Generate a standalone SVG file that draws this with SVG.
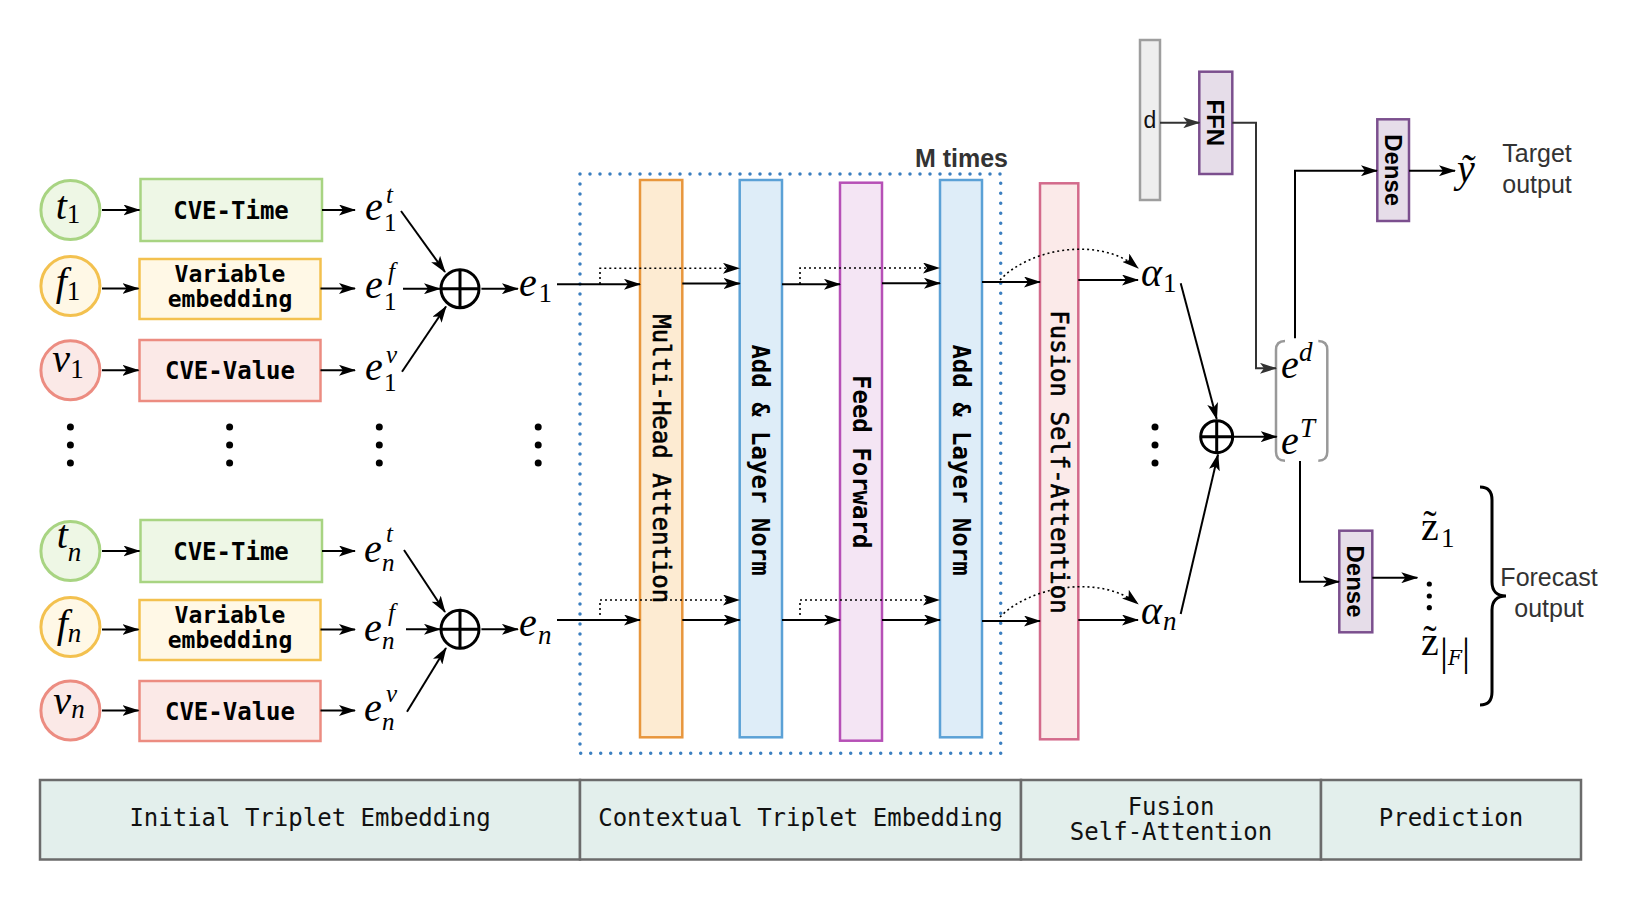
<svg xmlns="http://www.w3.org/2000/svg" width="1637" height="900" viewBox="0 0 1637 900">
<style>
.ln{stroke:#000;stroke-width:2;fill:none}
.arr{marker-end:url(#ah)}
.garr{marker-end:url(#ahg)}
.dt{stroke:#000;stroke-width:1.6;stroke-dasharray:2 3;fill:none}
.mono{font-family:"DejaVu Sans Mono","Liberation Mono",monospace;font-size:24px;font-weight:bold;fill:#000}
.mono2{font-size:23px}
.monor{font-family:"DejaVu Sans Mono","Liberation Mono",monospace;font-size:24px;fill:#000;stroke:#000;stroke-width:0.6}
.tab{font-family:"DejaVu Sans Mono","Liberation Mono",monospace;font-size:24px;fill:#111}
.math{font-family:"Liberation Serif","DejaVu Serif",serif;font-style:italic;font-size:40px;fill:#000}
.rm{font-family:"Liberation Serif","DejaVu Serif",serif;font-size:40px;fill:#000}
.s{font-size:27px}
.ss{font-size:25px}
.up{font-style:normal}
.sans{font-family:"Liberation Sans",Arial,sans-serif;font-size:25px;fill:#333}
.sansb{font-family:"Liberation Sans",Arial,sans-serif;font-size:24px;font-weight:bold;fill:#000}
.ct{fill:#eef7e5;stroke:#a8d482;stroke-width:3}
.cf{fill:#fff8e6;stroke:#f3c14f;stroke-width:3}
.cv{fill:#fbe9e7;stroke:#ec8c81;stroke-width:3}
.bt{fill:#eef7e6;stroke:#a8d482;stroke-width:2.5}
.bf{fill:#fff8e6;stroke:#f3c14f;stroke-width:2.5}
.bv{fill:#fbe9e7;stroke:#ec8c81;stroke-width:2.5}
.bmh{fill:#fdebd2;stroke:#e8963c;stroke-width:2.5}
.ban{fill:#deedf8;stroke:#5ba1d6;stroke-width:2.5}
.bff{fill:#f4e5f4;stroke:#b650b6;stroke-width:2.5}
.bfu{fill:#fbeae9;stroke:#d36a8b;stroke-width:2.5}
.bpu{fill:#e6dde9;stroke:#7b4f8e;stroke-width:2.5}
.bd{fill:#eeeeee;stroke:#9e9e9e;stroke-width:2.5}
.op{fill:none;stroke:#000;stroke-width:3}
.cell{fill:#e3efec;stroke:#6b6b6b;stroke-width:2.5}
</style>
<defs>
<marker id="ah" viewBox="0 0 17 11" refX="16" refY="5.5" markerWidth="17" markerHeight="11" markerUnits="userSpaceOnUse" orient="auto"><path d="M0,0 L17,5.5 L0,11 L4,5.5 Z" fill="#000"/></marker>
<marker id="ahg" viewBox="0 0 17 11" refX="16" refY="5.5" markerWidth="17" markerHeight="11" markerUnits="userSpaceOnUse" orient="auto"><path d="M0,0 L17,5.5 L0,11 L4,5.5 Z" fill="#333"/></marker>
</defs>

<!-- input circles -->
<g id="t1"><circle class="ct" cx="70.4" cy="210" r="29.5"/><text class="math" x="68" y="219" text-anchor="middle">t<tspan class="s up" dy="4">1</tspan></text></g>
<g id="f1"><circle class="cf" cx="70.4" cy="286" r="29.5"/><text class="math" x="68" y="295" text-anchor="middle">f<tspan class="s up" dy="5">1</tspan></text></g>
<g id="v1"><circle class="cv" cx="70.4" cy="370.3" r="29.5"/><text class="math" x="68" y="372" text-anchor="middle">v<tspan class="s up" dy="6">1</tspan></text></g>
<g id="tn"><circle class="ct" cx="70.4" cy="551" r="29.5"/><text class="math" x="69" y="548" text-anchor="middle">t<tspan class="s" dy="13">n</tspan></text></g>
<g id="fn"><circle class="cf" cx="70.4" cy="627" r="29.5"/><text class="math" x="69" y="637" text-anchor="middle">f<tspan class="s" dy="5">n</tspan></text></g>
<g id="vn"><circle class="cv" cx="70.4" cy="710.5" r="29.5"/><text class="math" x="69" y="714" text-anchor="middle">v<tspan class="s" dy="4">n</tspan></text></g>

<!-- embedding boxes -->
<g id="cvet1"><rect class="bt" x="140.5" y="179" width="181.5" height="62"/><text class="mono" x="231" y="218.5" text-anchor="middle">CVE-Time</text></g>
<g id="var1"><rect class="bf" x="139.5" y="259" width="181" height="60"/><text class="mono mono2" x="230" y="281.5" text-anchor="middle">Variable</text><text class="mono mono2" x="230" y="306.5" text-anchor="middle">embedding</text></g>
<g id="cvev1"><rect class="bv" x="139.5" y="340" width="181" height="61"/><text class="mono" x="230" y="379" text-anchor="middle">CVE-Value</text></g>
<g id="cvetn"><rect class="bt" x="140.5" y="520" width="181.5" height="62"/><text class="mono" x="231" y="559.5" text-anchor="middle">CVE-Time</text></g>
<g id="varn"><rect class="bf" x="139.5" y="600" width="181" height="60"/><text class="mono mono2" x="230" y="622.5" text-anchor="middle">Variable</text><text class="mono mono2" x="230" y="647.5" text-anchor="middle">embedding</text></g>
<g id="cvevn"><rect class="bv" x="139.5" y="681" width="181" height="60"/><text class="mono" x="230" y="719.5" text-anchor="middle">CVE-Value</text></g>

<!-- e labels -->
<g id="e1t"><text class="math" x="365" y="219.5">e</text><text class="math ss" x="386" y="203">t</text><text class="rm ss" x="384" y="231">1</text></g>
<g id="e1f"><text class="math" x="365" y="298">e</text><text class="math ss" x="388" y="280">f</text><text class="rm ss" x="384" y="310">1</text></g>
<g id="e1v"><text class="math" x="365" y="380">e</text><text class="math ss" x="386" y="363">v</text><text class="rm ss" x="384" y="391">1</text></g>
<g id="ent"><text class="math" x="364" y="562">e</text><text class="math ss" x="386" y="542">t</text><text class="math ss" x="382" y="571">n</text></g>
<g id="enf"><text class="math" x="364" y="641">e</text><text class="math ss" x="388" y="621">f</text><text class="math ss" x="382" y="649">n</text></g>
<g id="env"><text class="math" x="364" y="721">e</text><text class="math ss" x="386" y="702">v</text><text class="math ss" x="382" y="730">n</text></g>

<!-- oplus -->
<g id="sum1"><circle class="op" cx="460" cy="288.7" r="19"/><path class="op" d="M441,288.7 H479 M460,269.7 V307.7"/></g>
<g id="sumn"><circle class="op" cx="460" cy="629.3" r="19"/><path class="op" d="M441,629.3 H479 M460,610.3 V648.3"/></g>
<g id="e1"><text class="math" x="519" y="295.5">e</text><text class="rm s" x="538.5" y="302">1</text></g>
<g id="en"><text class="math" x="519" y="636">e</text><text class="math s" x="538" y="644">n</text></g>

<!-- vertical dots -->
<g id="dots" fill="#000">
<circle cx="70.4" cy="427" r="3.5"/><circle cx="70.4" cy="445" r="3.5"/><circle cx="70.4" cy="463" r="3.5"/>
<circle cx="229.6" cy="427" r="3.5"/><circle cx="229.6" cy="445" r="3.5"/><circle cx="229.6" cy="463" r="3.5"/>
<circle cx="379.3" cy="427" r="3.5"/><circle cx="379.3" cy="445" r="3.5"/><circle cx="379.3" cy="463" r="3.5"/>
<circle cx="538.2" cy="427" r="3.5"/><circle cx="538.2" cy="445" r="3.5"/><circle cx="538.2" cy="463" r="3.5"/>
<circle cx="1155" cy="427" r="3.5"/><circle cx="1155" cy="445" r="3.5"/><circle cx="1155" cy="463" r="3.5"/>
<circle cx="1429.3" cy="584" r="2.6"/><circle cx="1429.3" cy="596" r="2.6"/><circle cx="1429.3" cy="607.7" r="2.6"/>
</g>

<!-- M times frame -->
<g id="mtimes"><rect x="580" y="174" width="420.7" height="579.3" fill="none" stroke="#3b7fc0" stroke-width="3.5" stroke-dasharray="0 10" stroke-linecap="round"/><text x="1008" y="166.7" text-anchor="end" font-family="Liberation Sans, Arial, sans-serif" font-size="25" font-weight="bold" fill="#333">M times</text></g>

<!-- encoder blocks -->
<g id="mha"><rect class="bmh" x="640" y="180" width="42.3" height="557.3"/><text class="monor" transform="translate(661.2,458.7) rotate(90)" x="0" y="8.5" text-anchor="middle">Multi-Head Attention</text></g>
<g id="addnorm1"><rect class="ban" x="739.7" y="180" width="42.3" height="557.3"/><text class="mono" transform="translate(760.8,460) rotate(90)" x="0" y="8.5" text-anchor="middle">Add &amp; Layer Norm</text></g>
<g id="ffwd"><rect class="bff" x="840" y="182.7" width="42" height="558"/><text class="mono" transform="translate(861,461.7) rotate(90)" x="0" y="8.5" text-anchor="middle">Feed Forward</text></g>
<g id="addnorm2"><rect class="ban" x="940" y="180" width="42" height="557.3"/><text class="mono" transform="translate(961,460) rotate(90)" x="0" y="8.5" text-anchor="middle">Add &amp; Layer Norm</text></g>
<g id="fusion"><rect class="bfu" x="1040" y="183.3" width="38.3" height="556"/><text class="monor" transform="translate(1059.2,462) rotate(90)" x="0" y="8.5" text-anchor="middle">Fusion Self-Attention</text></g>

<!-- alphas and fusion sum -->
<g id="a1"><text class="math" x="1141" y="285.5">α</text><text class="rm s" x="1163" y="292">1</text></g>
<g id="an"><text class="math" x="1141" y="623.5">α</text><text class="math s" x="1163" y="630">n</text></g>
<g id="sum2"><circle class="op" cx="1216.7" cy="436.7" r="16"/><path class="op" d="M1200.7,436.7 H1232.7 M1216.7,420.7 V452.7"/></g>

<!-- concat bracket -->
<g id="concat">
<path d="M1285,341 Q1276,341 1276,350 L1276,451.7 Q1276,460.7 1285,460.7 M1318.3,341 Q1327.3,341 1327.3,350 L1327.3,451.7 Q1327.3,460.7 1318.3,460.7" fill="none" stroke="#999" stroke-width="2.5"/>
<text class="math" x="1281" y="377.5">e</text><text class="math s" x="1299" y="361">d</text>
<text class="math" x="1281" y="453.5">e</text><text class="math s" x="1300" y="436.5">T</text>
</g>

<!-- static features -->
<g id="dbox"><rect class="bd" x="1140" y="40" width="20" height="160"/><text x="1150" y="128" text-anchor="middle" font-family="Liberation Sans, Arial, sans-serif" font-size="23" fill="#111">d</text></g>
<g id="ffn"><rect class="bpu" x="1199.3" y="71.7" width="33" height="102.3"/><text class="sansb" transform="translate(1215.8,122.8) rotate(90)" x="0" y="8.3" text-anchor="middle" font-size="23">FFN</text></g>
<g id="dense1"><rect class="bpu" x="1377.3" y="119.3" width="31.7" height="101.7"/><text class="sansb" transform="translate(1393.2,170.2) rotate(90)" x="0" y="8.5" text-anchor="middle">Dense</text></g>
<g id="dense2"><rect class="bpu" x="1339.3" y="530.7" width="33" height="101.6"/><text class="sansb" transform="translate(1355.8,581.5) rotate(90)" x="0" y="8.5" text-anchor="middle">Dense</text></g>

<!-- outputs -->
<g id="ytilde"><text class="math" x="1457" y="182">ỹ</text><text class="sans" text-anchor="middle"><tspan x="1537" y="161.7">Target</tspan><tspan x="1537" y="192.7">output</tspan></text></g>
<g id="zout">
<text class="rm" x="1421" y="540">z</text><text class="rm" x="1430" y="538" text-anchor="middle">˜</text><text class="rm s" x="1441" y="547">1</text>
<text class="rm" x="1421" y="655">z</text><text class="rm" x="1430" y="653" text-anchor="middle">˜</text><text class="rm" x="1440" y="665" font-size="24">|<tspan font-style="italic" font-family="DejaVu Serif, serif" font-size="20">F</tspan>|</text>
<path d="M1480,487 C1488,487 1492,491 1492,500 L1492,582 C1492,591 1497,596 1506,596 C1497,596 1492,601 1492,610 L1492,692 C1492,701 1488,705 1480,705" fill="none" stroke="#000" stroke-width="3"/>
<text class="sans" text-anchor="middle"><tspan x="1549" y="585.7">Forecast</tspan><tspan x="1549" y="616.7">output</tspan></text>
</g>

<!-- connectors -->
<g id="connectors">
<path class="ln arr" d="M102,210 H139.5"/>
<path class="ln arr" d="M102,288.5 H138.5"/>
<path class="ln arr" d="M102,370.3 H138.5"/>
<path class="ln arr" d="M102,551 H139.5"/>
<path class="ln arr" d="M102,629.5 H138.5"/>
<path class="ln arr" d="M102,710.5 H138.5"/>
<path class="ln arr" d="M322,210 H355"/>
<path class="ln arr" d="M320.5,288.5 H355"/>
<path class="ln arr" d="M320.5,370.3 H355"/>
<path class="ln arr" d="M322,551 H355"/>
<path class="ln arr" d="M320.5,629.5 H355"/>
<path class="ln arr" d="M320.5,710.5 H355"/>
<path class="ln arr" d="M401,211 L445,272"/>
<path class="ln arr" d="M403,288.7 H440"/>
<path class="ln arr" d="M402,371.7 L446,306.5"/>
<path class="ln arr" d="M404,550 L445,612"/>
<path class="ln arr" d="M406,629.3 H440"/>
<path class="ln arr" d="M407,711.7 L446,648"/>
<path class="ln arr" d="M481.4,288.7 H517.9"/>
<path class="ln arr" d="M481.4,629.3 H517.9"/>
<path class="ln arr" d="M557,284.3 H640"/>
<path class="ln arr" d="M682.3,283.5 H739.7"/>
<path class="ln arr" d="M782,284.3 H840"/>
<path class="ln arr" d="M882,283.3 H940"/>
<path class="ln arr" d="M982,282 H1040"/>
<path class="ln arr" d="M1078.3,280 H1138"/>
<path class="dt arr" d="M600,284 V268.3 H739"/>
<path class="dt arr" d="M800,284 V268 H939"/>
<path class="dt arr" d="M1000,280 C1030,248 1100,236 1138,268"/>
<path class="ln arr" d="M557,620 H640"/>
<path class="ln arr" d="M682.3,620 H739.7"/>
<path class="ln arr" d="M782,620 H840"/>
<path class="ln arr" d="M882,620 H940"/>
<path class="ln arr" d="M982,621 H1040"/>
<path class="ln arr" d="M1078.3,620 H1138"/>
<path class="dt arr" d="M600,615 V600 H739"/>
<path class="dt arr" d="M800,615 V600 H939"/>
<path class="dt arr" d="M1000,617 C1030,586 1100,574 1138,604"/>
<path class="ln arr" d="M1180.7,283.3 L1216.7,419"/>
<path class="ln arr" d="M1180.7,614 L1218,454.5"/>
<path class="ln arr" d="M1234,436.7 H1276.7"/>
<path class="ln garr" style="stroke:#333" d="M1160,122.7 H1199.3"/>
<path class="ln garr" style="stroke:#333" d="M1232.3,122.7 H1256 V368.3 H1276"/>
<path class="ln arr" d="M1295,338.3 V170.7 H1377"/>
<path class="ln arr" d="M1409,170.7 H1455"/>
<path class="ln arr" d="M1300,461 V581.7 H1339"/>
<path class="ln arr" d="M1372.3,577.7 H1417.3"/>
</g>

<!-- stage table -->
<g id="stages">
<rect class="cell" x="40" y="780" width="540" height="79.5"/>
<rect class="cell" x="580" y="780" width="441" height="79.5"/>
<rect class="cell" x="1021" y="780" width="300" height="79.5"/>
<rect class="cell" x="1321" y="780" width="260" height="79.5"/>
<text class="tab" x="310" y="826" text-anchor="middle">Initial Triplet Embedding</text>
<text class="tab" x="800.5" y="826" text-anchor="middle">Contextual Triplet Embedding</text>
<text class="tab" x="1171" y="814.5" text-anchor="middle">Fusion</text>
<text class="tab" x="1171" y="840" text-anchor="middle">Self-Attention</text>
<text class="tab" x="1451" y="826" text-anchor="middle">Prediction</text>
</g>
</svg>
